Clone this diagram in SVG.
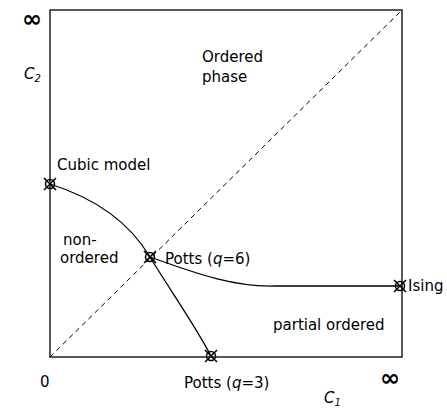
<svg xmlns="http://www.w3.org/2000/svg" width="447" height="410" viewBox="0 0 447 410">
<style>
text{font-family:"DejaVu Sans","Liberation Sans",sans-serif;font-size:15px;fill:#000}
.inf{font-size:24px;font-weight:bold}
.ax{fill:none;stroke:#000;stroke-width:1.3}
.cv{fill:none;stroke:#000;stroke-width:1.3}
.ds{fill:none;stroke:#000;stroke-width:1;stroke-dasharray:5,4}
.mk circle{fill:none;stroke:#000;stroke-width:1.5}
.mk path{stroke:#000;stroke-width:1.5}
</style>
<defs>
<g id="m" class="mk"><circle r="4.5"/><path d="M-6,-6L6,6M-6,6L6,-6"/></g>
</defs>
<g id="connectors">
<rect class="ax" x="50" y="10" width="352" height="347"/>
<path class="ds" d="M50,357L402,10"/>
<path class="cv" d="M50,184C85,195 125,215 150,257"/>
<path class="cv" d="M150,257C170,290 195,325 211,356"/>
<path class="cv" d="M150,257C200,275 235,287 275,286L400,286"/>
</g>
<g id="cubic"><use href="#m" x="50" y="184"/><text x="57" y="170">Cubic model</text></g>
<g id="potts6"><use href="#m" x="150" y="257"/><text x="165" y="264">Potts (<tspan font-style="italic">q</tspan>=6)</text></g>
<g id="potts3"><use href="#m" x="211" y="356"/><text x="184" y="388">Potts (<tspan font-style="italic">q</tspan>=3)</text></g>
<g id="ising"><use href="#m" x="400" y="286"/><text x="408" y="291">Ising</text></g>
<g id="labels">
<text x="202" y="62">Ordered</text>
<text x="202" y="82">phase</text>
<text x="63" y="245">non-</text>
<text x="60" y="263">ordered</text>
<text x="273" y="330">partial ordered</text>
<text x="40" y="387">0</text>
<text class="inf" x="380" y="386">∞</text>
<text class="inf" x="22" y="27">∞</text>
<text x="24" y="79" font-style="italic">C<tspan font-size="10" dy="3">2</tspan></text>
<text x="324" y="403" font-style="italic">C<tspan font-size="10" dy="3">1</tspan></text>
</g>
</svg>
